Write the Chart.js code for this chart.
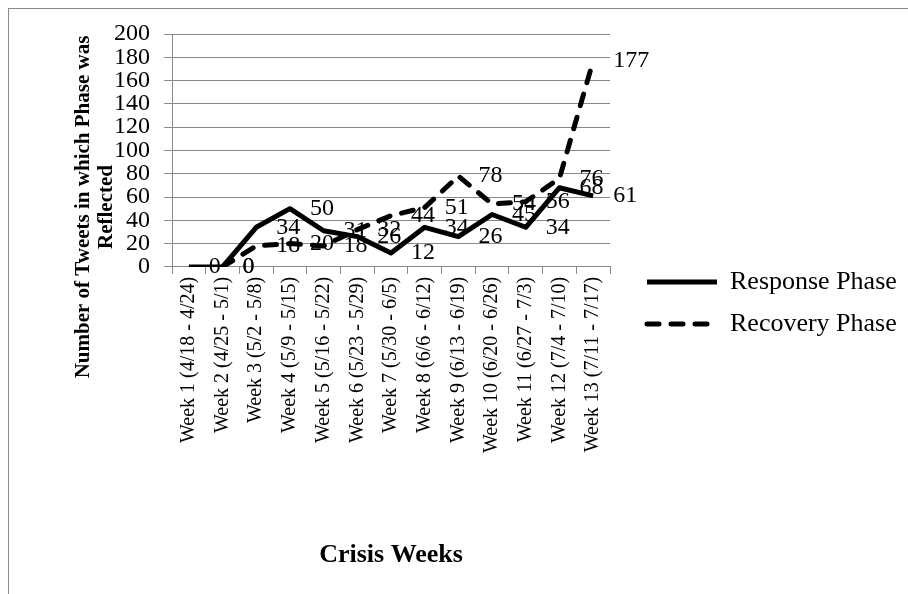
<!DOCTYPE html>
<html>
<head>
<meta charset="utf-8">
<script src="https://cdn.jsdelivr.net/npm/chart.js@4.4.1/dist/chart.umd.min.js"></script>
<style>
    html, body { margin: 0; padding: 0; background: #fff; }
    #wrap { position: relative; width: 908px; height: 594px; overflow: hidden; }
    #frame { position: absolute; left: 8px; top: 8px; width: 960px; height: 640px;
             border-left: 1px solid #8a8a8a; border-top: 1px solid #8a8a8a; }
    #chart { position: absolute; left: 0; top: 0; }
</style>
</head>
<body>
<div id="wrap">
    <div id="frame"></div>
    <canvas id="chart" width="908" height="594"></canvas>
</div>
<script>
"use strict";

/* chart data */
var weeks = [
    'Week 1 (4/18 - 4/24)', 'Week 2 (4/25 - 5/1)', 'Week 3 (5/2 - 5/8)',
    'Week 4 (5/9 - 5/15)', 'Week 5 (5/16 - 5/22)', 'Week 6 (5/23 - 5/29)',
    'Week 7 (5/30 - 6/5)', 'Week 8 (6/6 - 6/12)', 'Week 9 (6/13 - 6/19)',
    'Week 10 (6/20 - 6/26)', 'Week 11 (6/27 - 7/3)', 'Week 12 (7/4 - 7/10)',
    'Week 13 (7/11 - 7/17)'
];
var responsePhase = [0, 0, 34, 50, 31, 26, 12, 34, 26, 45, 34, 68, 61];
var recoveryPhase = [null, 0, 18, 20, 18, 32, 44, 51, 78, 54, 56, 76, 177];
var yTickValues = [0, 20, 40, 60, 80, 100, 120, 140, 160, 180, 200];
var xTitle = 'Crisis Weeks';
var yTitleLines = ['Number of Tweets in which Phase was', 'Reflected'];

var serif = '"Liberation Serif", "Times New Roman", serif';
var gridColor = '#898989';

Chart.defaults.font.family = serif;
Chart.defaults.color = '#000';

/* value labels to the right of each point */
var valueLabels = {
    id: 'valueLabels',
    afterDatasetsDraw: function (chart) {
        var ctx = chart.ctx;
        ctx.save();
        ctx.font = '24px ' + serif;
        ctx.fillStyle = '#000';
        ctx.textAlign = 'left';
        ctx.textBaseline = 'middle';
        chart.data.datasets.forEach(function (ds, i) {
            chart.getDatasetMeta(i).data.forEach(function (pt, j) {
                var v = ds.data[j];
                if (v === null || v === undefined) return;
                ctx.fillText(String(v), pt.x + 20, pt.y);
            });
        });
        ctx.restore();
    }
};

/* axis titles, placed where excel put them (the x scale can't be that tall) */
var axisTitles = {
    id: 'axisTitles',
    afterDraw: function (chart) {
        var ctx = chart.ctx;
        var area = chart.chartArea;
        ctx.save();
        ctx.fillStyle = '#000';
        ctx.textAlign = 'center';
        ctx.textBaseline = 'middle';
        ctx.font = 'bold 26px ' + serif;
        ctx.fillText(xTitle, (area.left + area.right) / 2, 555);
        ctx.font = 'bold 21px ' + serif;
        ctx.translate(0, 207);
        ctx.rotate(-Math.PI / 2);
        ctx.fillText(yTitleLines[0], 0, 84);
        ctx.fillText(yTitleLines[1], 0, 107);
        ctx.restore();
    }
};

/* move the legend off the plot and give it room for its text */
var legendPlace = {
    id: 'legendPlace',
    afterLayout: function (chart) {
        var lg = chart.legend;
        lg.left = chart.chartArea.right + 21;
        lg.right = chart.width;
        lg.width = lg.right - lg.left;
        lg.bottom = chart.height - 22;
        lg.height = lg.bottom - lg.top;
    }
};

var ctx = document.getElementById('chart').getContext('2d');
var tweetsChart = new Chart(ctx, {
    type: 'line',
    data: {
        labels: weeks,
        datasets: [{
            label: 'Response Phase',
            data: responsePhase,
            borderColor: '#000',
            backgroundColor: '#000',
            borderWidth: 5,
            borderJoinStyle: 'round',
            pointRadius: 0,
            tension: 0,
            fill: false
        }, {
            label: 'Recovery Phase',
            data: recoveryPhase,
            borderColor: '#000',
            backgroundColor: '#000',
            borderWidth: 5,
            borderDash: [12, 12],
            borderCapStyle: 'round',
            pointRadius: 0,
            tension: 0,
            fill: false
        }]
    },
    options: {
        responsive: false,
        animation: false,
        devicePixelRatio: 1,
        layout: {
            padding: { left: 100, top: 34, right: 128, bottom: 138 }
        },
        plugins: {
            legend: {
                position: 'right',
                align: 'center',
                labels: {
                    usePointStyle: true,
                    pointStyle: 'line',
                    pointStyleWidth: 70,
                    padding: 16,
                    color: '#000',
                    font: { size: 26 },
                    generateLabels: function (chart) {
                        return chart.data.datasets.map(function (ds, i) {
                            return {
                                text: ds.label,
                                strokeStyle: ds.borderColor,
                                fillStyle: ds.borderColor,
                                lineWidth: ds.borderWidth,
                                lineDash: ds.borderDash || [],
                                lineCap: ds.borderCapStyle || 'butt',
                                pointStyle: 'line',
                                hidden: false,
                                datasetIndex: i
                            };
                        });
                    }
                }
            },
            tooltip: { enabled: false }
        },
        scales: {
            x: {
                offset: true,
                grid: {
                    offset: true,
                    drawOnChartArea: false,
                    tickLength: 7,
                    color: gridColor
                },
                border: { color: gridColor },
                ticks: {
                    autoSkip: false,
                    minRotation: 90,
                    maxRotation: 90,
                    padding: 3,
                    color: '#000',
                    font: { size: 20 }
                }
            },
            y: {
                min: yTickValues[0],
                max: yTickValues[yTickValues.length - 1],
                afterBuildTicks: function (scale) {
                    scale.ticks = yTickValues.map(function (v) { return { value: v }; });
                },
                grid: { tickLength: 8, color: gridColor },
                border: { color: gridColor },
                ticks: {
                    autoSkip: false,
                    padding: 14,
                    color: '#000',
                    font: { size: 24 }
                }
            }
        }
    },
    plugins: [valueLabels, axisTitles, legendPlace]
});
</script>
</body>
</html>
